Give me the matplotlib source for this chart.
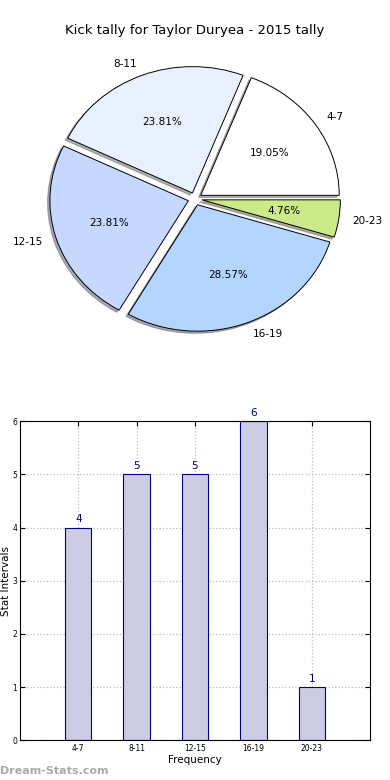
import numpy as np
import matplotlib as mpl

mpl.use('Agg')

import matplotlib.pyplot as plt

# kick tally data
intervals = ['4-7', '8-11', '12-15', '16-19', '20-23']
counts = [4, 5, 5, 6, 1]
pie_colors = ['#ffffff', '#eaf1fe', '#c6d8ff', '#b4d5ff', '#cdea8a']

fig = plt.figure(figsize=(3.9, 7.8), dpi=100)

# pie chart
ax1 = fig.add_axes([0.12, 0.57, 0.76, 0.35])
ax1.pie(counts, labels=intervals, colors=pie_colors, autopct='%1.2f%%',
        explode=[0.05] * len(counts),
        shadow={'ox': -0.012, 'oy': -0.012, 'shade': 0.6}, startangle=0,
        wedgeprops={'edgecolor': 'black', 'linewidth': 0.7},
        textprops={'fontsize': 7.5}, labeldistance=1.1, pctdistance=0.6)
ax1.set_aspect('auto')
ax1.set_xlim(-1.07, 1.07)
ax1.set_ylim(-1.08, 1.08)
fig.text(0.5, 0.961, 'Kick tally for Taylor Duryea - 2015 tally',
         ha='center', va='center', fontsize=9.5)

# bar chart
ax2 = fig.add_axes([0.051, 0.051, 0.898, 0.409])
x = np.arange(len(counts))
ax2.bar(x, counts, width=0.45, color='#ccccE5', edgecolor='#000080',
        linewidth=0.8, zorder=2)
for xi, c in zip(x, counts):
    ax2.text(xi, c + 0.06, str(c), ha='center', va='bottom',
             color='#000080', fontsize=7.5)
ax2.set_xlim(-1, 5)
ax2.set_ylim(0, 6)
ax2.set_xticks(x)
ax2.set_xticklabels(intervals, fontsize=5.5)
ax2.set_yticks(range(7))
ax2.tick_params(axis='y', labelsize=5.5, direction='in', pad=2)
ax2.tick_params(axis='x', direction='in', pad=3)
ax2.tick_params(top=True, right=True)
ax2.grid(True, linestyle=':', color='#bbbbbb', linewidth=0.9, zorder=0)
ax2.set_axisbelow(True)
ax2.set_xlabel('Frequency', fontsize=7.5, labelpad=1)
ax2.set_ylabel('Stat Intervals', fontsize=7.5, labelpad=1)

fig.text(0.0, 0.012, 'Dream-Stats.com', color='#aaaaaa', fontsize=8,
         fontweight='bold', ha='left', va='center')

fig.savefig('out.png', dpi=100)
